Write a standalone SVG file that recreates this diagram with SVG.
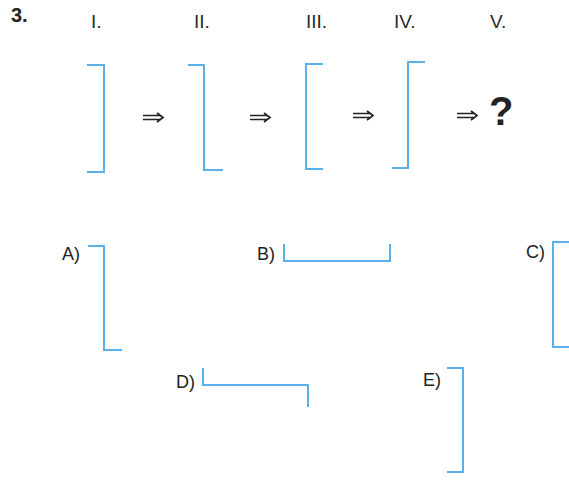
<svg xmlns="http://www.w3.org/2000/svg" width="569" height="480" viewBox="0 0 569 480">
<style>
.sh{fill:none;stroke:#5ab0ea;stroke-width:2;stroke-linejoin:miter;stroke-linecap:butt}
.hd{font-family:"Liberation Sans",Arial,sans-serif;font-size:19px;fill:#2a2a2a}
.lb{font-family:"Liberation Sans",Arial,sans-serif;font-size:18px;fill:#222}
.ar{fill:none;stroke:#222;stroke-width:1.7}
</style>
<rect width="569" height="480" fill="#ffffff"/>
<text x="11" y="22" font-family="Liberation Sans,Arial,sans-serif" font-weight="bold" font-size="20" fill="#222">3.</text>
<g id="headers">
<text class="hd" x="91" y="28">I.</text>
<text class="hd" x="194" y="28">II.</text>
<text class="hd" x="306" y="28">III.</text>
<text class="hd" x="394" y="28">IV.</text>
<text class="hd" x="490" y="28">V.</text>
</g>
<g id="seq-I"><path class="sh" d="M87,65 H104 V172 H87"/></g>
<g id="seq-II"><path class="sh" d="M188,65 H204 V170 H223"/></g>
<g id="seq-III"><path class="sh" d="M323,64 H306 V169 H323"/></g>
<g id="seq-IV"><path class="sh" d="M425,62 H408 V168 H392"/></g>
<g id="seq-V"><text x="489" y="125" font-family="Liberation Sans,Arial,sans-serif" font-weight="bold" font-size="40" fill="#222">?</text></g>
<g id="connectors">
<path class="ar" d="M143,115.5 H160 M143,119.5 H160 M157,113 L163,117.5 L157,122"/>
<path class="ar" d="M250,115.5 H267 M250,119.5 H267 M264,113 L270,117.5 L264,122"/>
<path class="ar" d="M353,113.5 H370 M353,117.5 H370 M367,111 L373,115.5 L367,120"/>
<path class="ar" d="M457,113.5 H474 M457,117.5 H474 M471,111 L477,115.5 L471,120"/>
</g>
<g id="opt-A"><text class="lb" x="62" y="260">A)</text><path class="sh" d="M88,246 H104 V350 H122"/></g>
<g id="opt-B"><text class="lb" x="257" y="260">B)</text><path class="sh" d="M284,244 V261 H390 V244"/></g>
<g id="opt-C"><text class="lb" x="526" y="258">C)</text><path class="sh" d="M572,242 H553 V347 H572"/></g>
<g id="opt-D"><text class="lb" x="176" y="388">D)</text><path class="sh" d="M203,368 V385 H308 V407"/></g>
<g id="opt-E"><text class="lb" x="423" y="386">E)</text><path class="sh" d="M447,368 H463 V472 H447"/></g>
</svg>
